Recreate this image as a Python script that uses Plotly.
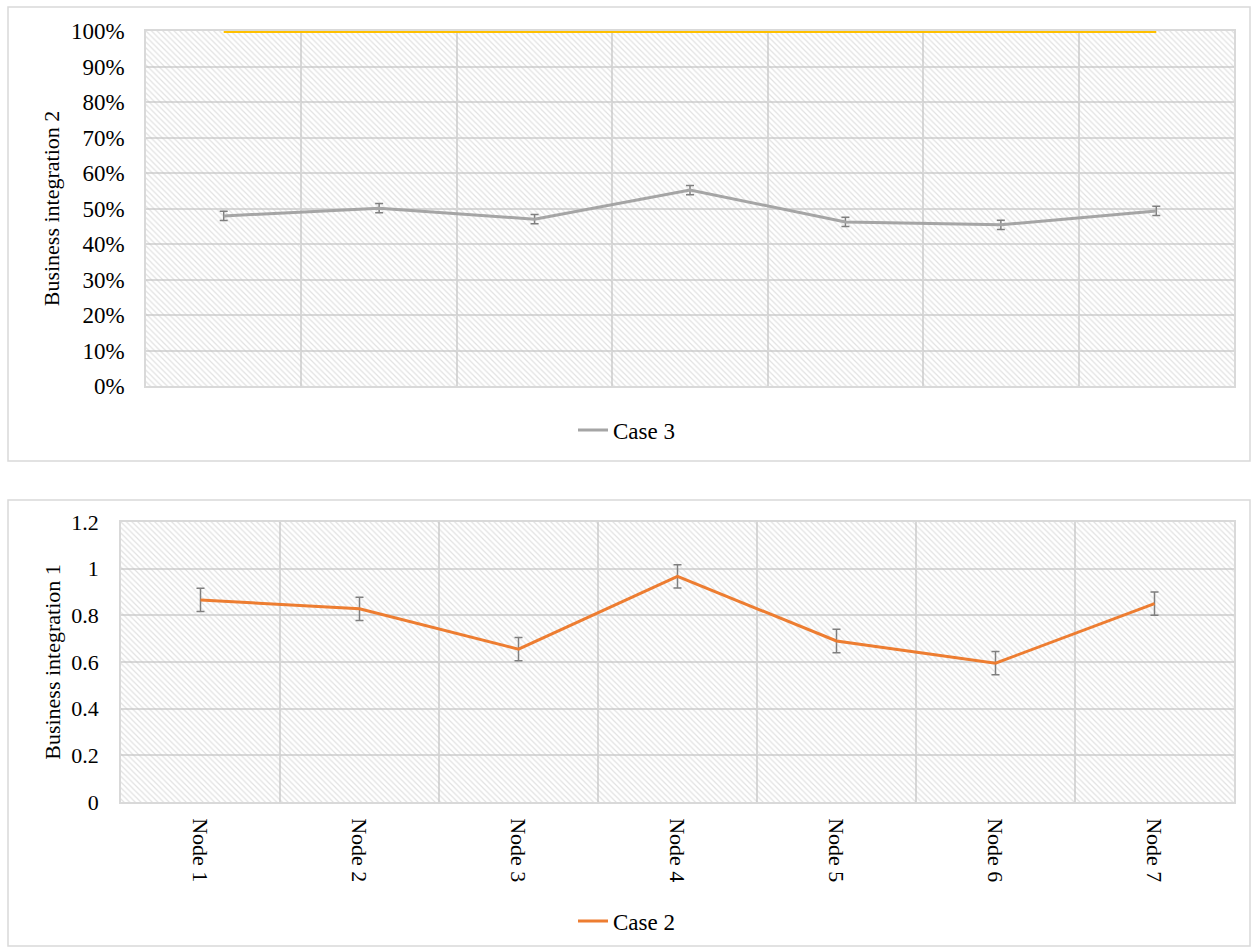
import plotly.graph_objects as go

# Categories and series values
nodes = ["Node 1", "Node 2", "Node 3", "Node 4", "Node 5", "Node 6", "Node 7"]

case3 = [0.479, 0.501, 0.470, 0.552, 0.462, 0.454, 0.493]
case3_err = [0.013, 0.013, 0.013, 0.013, 0.013, 0.013, 0.013]
total_share = [1.0, 1.0, 1.0, 1.0, 1.0, 1.0, 1.0]

case2 = [0.866, 0.828, 0.655, 0.967, 0.690, 0.595, 0.850]
case2_err = [0.05, 0.05, 0.05, 0.05, 0.05, 0.05, 0.05]

top_ticks = [0, 0.1, 0.2, 0.3, 0.4, 0.5, 0.6, 0.7, 0.8, 0.9, 1.0]
bottom_ticks = [0, 0.2, 0.4, 0.6, 0.8, 1.0, 1.2]
bottom_tick_text = ["0", "0.2", "0.4", "0.6", "0.8", "1", "1.2"]

W, H = 1253, 947
FONT = "Liberation Serif"
GRID = "#d9d9d9"


def px_x(v):
    return v / W


def px_y(v):
    return 1 - v / H


fig = go.Figure()

hatch = dict(shape="\\", fgcolor="#c4c4c4", size=4, solidity=0.3)

# Hatched plot backgrounds
fig.add_trace(go.Bar(x=nodes, y=[1.0] * len(nodes), width=1, xaxis="x", yaxis="y",
                     marker=dict(color="rgba(0,0,0,0)", line=dict(width=0), pattern=hatch),
                     showlegend=False, hoverinfo="skip"))
fig.add_trace(go.Bar(x=nodes, y=[1.2] * len(nodes), width=1, xaxis="x2", yaxis="y2",
                     marker=dict(color="rgba(0,0,0,0)", line=dict(width=0), pattern=hatch),
                     showlegend=False, hoverinfo="skip"))

# Upper panel series
fig.add_trace(go.Scatter(x=nodes, y=total_share, mode="lines", xaxis="x", yaxis="y",
                         line=dict(color="#ffc000", width=4), showlegend=False,
                         cliponaxis=False))
fig.add_trace(go.Scatter(x=nodes, y=case3, mode="lines", name="Case 3", xaxis="x", yaxis="y",
                         line=dict(color="#a5a5a5", width=3),
                         error_y=dict(type="data", array=case3_err, color="#7f7f7f",
                                      thickness=1.5, width=4),
                         legend="legend"))

# Lower panel series
fig.add_trace(go.Scatter(x=nodes, y=case2, mode="lines", name="Case 2", xaxis="x2", yaxis="y2",
                         line=dict(color="#ed7d31", width=3),
                         error_y=dict(type="data", array=case2_err, color="#7f7f7f",
                                      thickness=1.5, width=4),
                         legend="legend2"))

axis_common = dict(showgrid=True, gridcolor=GRID, gridwidth=1.5, showline=True,
                   linecolor=GRID, linewidth=1.5, mirror=True, zeroline=False,
                   layer="below traces")

fig.update_layout(
    width=W, height=H,
    margin=dict(l=0, r=0, t=0, b=0, autoexpand=False),
    paper_bgcolor="white", plot_bgcolor="white",
    bargap=0,
    font=dict(family=FONT, size=22, color="black"),
    xaxis=dict(domain=[px_x(146), px_x(1234)], anchor="y", type="category",
               categoryorder="array", categoryarray=nodes, range=[-0.5, 6.5],
               tickson="boundaries", showticklabels=False, ticks="", **axis_common),
    yaxis=dict(domain=[px_y(386), px_y(31)], anchor="x", range=[0, 1.0],
               tickvals=top_ticks, tickformat=".0%", ticks="", ticklabelstandoff=15,
               tickfont=dict(family=FONT, size=23, color="black"),
               title=dict(text="Business integration 2",
                          font=dict(family=FONT, size=22, color="black"), standoff=5),
               **axis_common),
    xaxis2=dict(domain=[px_x(121), px_x(1234)], anchor="y2", type="category",
                categoryorder="array", categoryarray=nodes, range=[-0.5, 6.5],
                tickson="boundaries", tickangle=90, ticks="", ticklabelstandoff=10,
                tickfont=dict(family=FONT, size=22, color="black"),
                **axis_common),
    yaxis2=dict(domain=[px_y(802), px_y(522)], anchor="x2", range=[0, 1.2],
                tickvals=bottom_ticks, ticktext=bottom_tick_text, ticks="",
                ticklabelstandoff=16,
                tickfont=dict(family=FONT, size=22, color="black"),
                title=dict(text="Business integration 1",
                           font=dict(family=FONT, size=22, color="black"), standoff=5),
                **axis_common),
    legend=dict(x=0.5, y=px_y(430), xanchor="center", yanchor="middle",
                orientation="h", font=dict(family=FONT, size=23, color="black"),
                bgcolor="rgba(0,0,0,0)"),
    legend2=dict(x=0.5, y=px_y(921), xanchor="center", yanchor="middle",
                 orientation="h", font=dict(family=FONT, size=23, color="black"),
                 bgcolor="rgba(0,0,0,0)"),
    shapes=[
        dict(type="rect", xref="paper", yref="paper",
             x0=px_x(8), x1=px_x(1250), y0=px_y(461), y1=px_y(7),
             line=dict(color=GRID, width=1.5), layer="below"),
        dict(type="rect", xref="paper", yref="paper",
             x0=px_x(8), x1=px_x(1250), y0=px_y(946), y1=px_y(500),
             line=dict(color=GRID, width=1.5), layer="below"),
    ],
)

fig.write_html("out.html")
